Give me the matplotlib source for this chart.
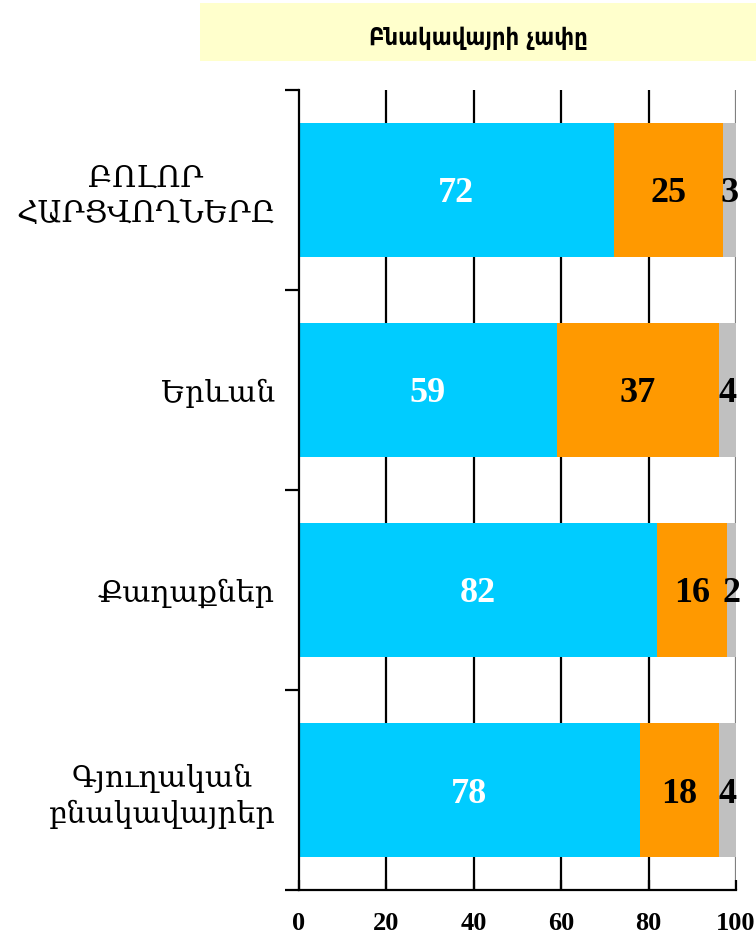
import matplotlib
matplotlib.use("Agg")
import matplotlib.pyplot as plt
import numpy as np

categories = ["ԲՈԼՈՐ\nՀԱՐՑՎՈՂՆԵՐԸ", "Երևան", "Քաղաքներ", "Գյուղական\nբնակավայրեր"]
series_a = [72, 59, 82, 78]
series_b = [25, 37, 16, 18]
series_c = [3, 4, 2, 4]
title_text = "Բնակավայրի չափը"
x_ticks = [0, 20, 40, 60, 80, 100]

colors = ["#00CCFF", "#FF9900", "#C0C0C0"]
num_font = ["Liberation Serif", "DejaVu Serif"]

fig = plt.figure(figsize=(7.56, 9.46), dpi=100)
ax = fig.add_axes([299 / 756, 1 - 890 / 946, 437 / 756, 800 / 946])

y = np.arange(len(categories))
a = np.array(series_a)
b = np.array(series_b)
c = np.array(series_c)
h = 0.67

for xv in x_ticks[1:-1]:
    ax.axvline(xv, color="black", lw=1.6, zorder=0)
ax.axvline(100, color="#808080", lw=1.6, zorder=0)

ax.barh(y, a, height=h, color=colors[0], zorder=2)
ax.barh(y, b, left=a, height=h, color=colors[1], zorder=2)
ax.barh(y, c, left=a + b, height=h, color=colors[2], zorder=2)

for i in range(len(categories)):
    ax.text(a[i] / 2, y[i] + 0.02, str(a[i]), ha="center", va="center", color="white",
            fontsize=26, fontweight="bold", family=num_font, zorder=3)
    ax.text(a[i] + b[i] / 2, y[i] + 0.02, str(b[i]), ha="center", va="center", color="black",
            fontsize=26, fontweight="bold", family=num_font, zorder=3)
    ax.text(a[i] + b[i] + c[i] / 2, y[i] + 0.02, str(c[i]), ha="center", va="center", color="black",
            fontsize=26, fontweight="bold", family=num_font, zorder=3)

ax.set_xlim(0, 100)
ax.set_ylim(len(categories) - 0.5, -0.5)
ax.set_xticks(x_ticks)
ax.set_xticklabels([str(t) for t in x_ticks], fontsize=19, fontweight="bold", family=num_font)
ax.tick_params(axis="x", direction="in", length=7, width=1.6, pad=16)
ax.tick_params(axis="x", which="both", top=False)

ax.set_yticks(np.arange(len(categories) + 1) - 0.5)
ax.set_yticklabels([])
ax.set_yticks(y, minor=True)
ax.set_yticklabels(categories, minor=True, fontsize=21.5, family="DejaVu Serif",
                   linespacing=1.3, ha="right", multialignment="center")
ax.tick_params(axis="y", which="major", direction="out", length=10, width=1.6)
ax.tick_params(axis="y", which="minor", length=0, pad=17)

for side in ["top", "right"]:
    ax.spines[side].set_visible(False)
ax.spines["left"].set_linewidth(1.6)
ax.spines["bottom"].set_linewidth(1.6)

fig.patches.append(plt.Rectangle((200 / 756, 1 - 61 / 946), 556 / 756, 58 / 946,
                                 transform=fig.transFigure, facecolor="#FFFFCC",
                                 edgecolor="none", zorder=0))
fig.text(478 / 756, 1 - 38 / 946, title_text, ha="center", va="center",
         fontsize=17, fontweight="bold", family="DejaVu Sans", fontstretch="condensed")

fig.savefig("out.png", dpi=100)
